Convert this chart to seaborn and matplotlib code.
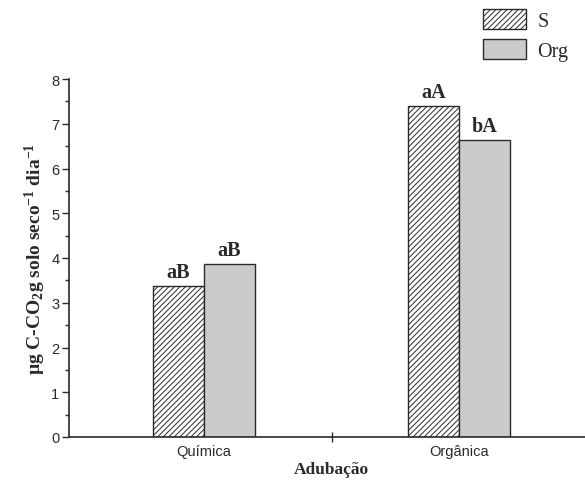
import pandas as pd
import matplotlib
matplotlib.use("Agg")
import matplotlib.pyplot as plt
from matplotlib.patches import Patch
import seaborn as sns

# dados
grupos = ['Química', 'Orgânica']
tratamentos = ['S', 'Org']
valores_s = [3.37, 7.40]
valores_org = [3.87, 6.64]
letras_s = ['aB', 'aA']
letras_org = ['aB', 'bA']

df = pd.DataFrame({
    'Adubação': grupos + grupos,
    'Tratamento': ['S'] * len(grupos) + ['Org'] * len(grupos),
    'valor': valores_s + valores_org,
})

sns.set_style('ticks')
plt.rcParams['font.family'] = ['Liberation Sans', 'DejaVu Sans']
plt.rcParams['mathtext.fontset'] = 'custom'
plt.rcParams['mathtext.rm'] = 'Liberation Serif'
plt.rcParams['mathtext.bf'] = 'Liberation Serif:bold'
plt.rcParams['mathtext.it'] = 'Liberation Serif:italic'
plt.rcParams['hatch.linewidth'] = 0.7
plt.rcParams['hatch.color'] = '#3a3a3a'

cor = '#2a2a2a'
cinza = '#cbcbcb'
serif = ['Liberation Serif', 'DejaVu Serif']
hachura = '//////'

fig = plt.figure(figsize=(5.85, 4.81), dpi=100)
ax = fig.add_axes([69 / 585, 43 / 481, 525 / 585, 358 / 481])

sns.barplot(data=df, x='Adubação', y='valor', hue='Tratamento',
            order=grupos, hue_order=tratamentos, width=0.4, gap=0,
            palette=['white', cinza], edgecolor=cor, linewidth=1.0,
            legend=False, ax=ax)

for bar in ax.containers[0]:
    bar.set_hatch(hachura)

ax.bar_label(ax.containers[0], labels=letras_s, padding=3,
             fontsize=14.5, fontweight='bold', family=serif, color=cor)
ax.bar_label(ax.containers[1], labels=letras_org, padding=3,
             fontsize=14.5, fontweight='bold', family=serif, color=cor)

ax.set_ylim(0, 8)
ax.set_xlim(-0.53, 1.53)
ax.set_yticks(range(0, 9))
ax.set_yticks([i + 0.5 for i in range(8)], minor=True)
ax.set_xticks([0.5], labels=[''])
ax.set_xticks([0, 1], labels=grupos, minor=True)
ax.tick_params(axis='y', which='major', length=5, width=1, colors=cor,
               labelsize=10.5, pad=2)
ax.tick_params(axis='y', which='minor', length=3, width=1, colors=cor)
ax.tick_params(axis='x', which='major', length=7, width=1, colors=cor,
               direction='inout')
ax.tick_params(axis='x', which='minor', length=0, labelsize=10.5,
               colors=cor, pad=5)

sns.despine(ax=ax)
for s in ['left', 'bottom']:
    ax.spines[s].set_color(cor)
    ax.spines[s].set_linewidth(1.2)

ax.set_ylabel(r'µg C-CO$_\mathbf{2}$g solo seco$^{\mathbf{-1}}$ dia$^{\mathbf{-1}}$',
              fontsize=14, fontweight='bold', family=serif, color=cor,
              labelpad=2)
ax.set_xlabel('Adubação', fontsize=12.5, fontweight='bold', family=serif,
              color=cor, labelpad=2)

handles = [Patch(facecolor='white', edgecolor=cor, hatch=hachura, linewidth=1),
           Patch(facecolor=cinza, edgecolor=cor, linewidth=1)]
leg = fig.legend(handles, tratamentos, loc='upper left',
                 bbox_to_anchor=(483 / 585, 1 - 10 / 481), frameon=False,
                 prop={'family': serif, 'size': 14.5},
                 handlelength=2.15, handleheight=1.15, labelspacing=0.4,
                 handletextpad=0.55, borderpad=0, borderaxespad=0)
for t in leg.get_texts():
    t.set_color(cor)

fig.savefig('out.png', dpi=100)
